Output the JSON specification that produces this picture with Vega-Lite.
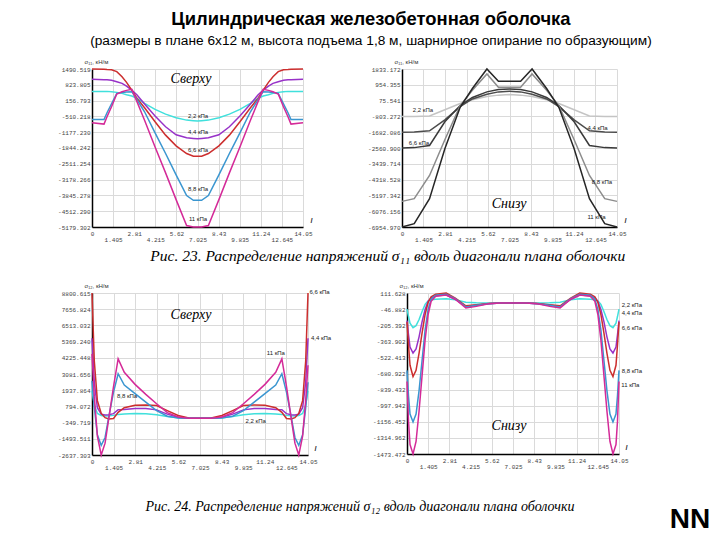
{
  "$schema": "https://vega.github.io/schema/vega-lite/v6.json",
  "background": "white",
  "padding": {"left": 57, "top": 9, "right": 5, "bottom": 5},
  "spacing": 17,
  "resolve": {"scale": {"color": "independent"}},
  "title": {
    "text": "Цилиндрическая железобетонная оболочка",
    "subtitle": "(размеры в плане 6x12 м, высота подъема 1,8 м, шарнирное опирание по образующим)",
    "anchor": "middle",
    "frame": "bounds",
    "font": "Liberation Sans",
    "fontSize": 18.4,
    "fontWeight": "bold",
    "color": "#000000",
    "subtitleFont": "Liberation Sans",
    "subtitleFontSize": 13.7,
    "subtitleColor": "#000000",
    "subtitlePadding": 6,
    "offset": 10,
    "dx": -13
  },
  "datasets": {
    "tl": [
      {"x": 0, "p22": 546, "p44": 1053, "p66": 1490.519, "p88": -639, "p11": -780},
      {"x": 0.8, "p22": 546, "p44": 1039, "p66": 1485, "p88": -639, "p11": -836},
      {"x": 1.0, "p22": 546, "p44": 1039, "p66": 1470, "p88": -357, "p11": -526},
      {"x": 1.3, "p22": 532, "p44": 1011, "p66": 1462, "p88": 24, "p11": -104},
      {"x": 1.65, "p22": 504, "p44": 955, "p66": 1378, "p88": 461, "p11": 433},
      {"x": 2.0, "p22": 461, "p44": 884, "p66": 1166, "p88": 503, "p11": 532},
      {"x": 2.3, "p22": 405, "p44": 771, "p66": 927, "p88": 517, "p11": 588},
      {"x": 2.65, "p22": 348, "p44": 602, "p66": 602, "p88": 532, "p11": 630},
      {"x": 3.0, "p22": 250, "p44": 391, "p66": 250, "p88": 193, "p11": 102},
      {"x": 3.5, "p22": 38, "p44": 10, "p66": -145, "p88": -314, "p11": -674},
      {"x": 4.2, "p22": -216, "p44": -498, "p66": -737, "p88": -1203, "p11": -1802},
      {"x": 4.9, "p22": -413, "p44": -949, "p66": -1302, "p88": -2077, "p11": -2895},
      {"x": 5.6, "p22": -568, "p44": -1287, "p66": -1753, "p88": -2980, "p11": -4023},
      {"x": 6.3, "p22": -667, "p44": -1414, "p66": -2077, "p88": -3854, "p11": -5116},
      {"x": 6.75, "p22": -695, "p44": -1443, "p66": -2190, "p88": -4051, "p11": -5179.302},
      {"x": 7.025, "p22": -709, "p44": -1457, "p66": -2190, "p88": -4051, "p11": -5179.302},
      {"x": 7.3, "p22": -695, "p44": -1443, "p66": -2190, "p88": -4051, "p11": -5179.302},
      {"x": 7.75, "p22": -667, "p44": -1414, "p66": -2077, "p88": -3854, "p11": -5116},
      {"x": 8.45, "p22": -568, "p44": -1287, "p66": -1753, "p88": -2980, "p11": -4023},
      {"x": 9.15, "p22": -413, "p44": -949, "p66": -1302, "p88": -2077, "p11": -2895},
      {"x": 9.85, "p22": -216, "p44": -498, "p66": -737, "p88": -1203, "p11": -1802},
      {"x": 10.55, "p22": 38, "p44": 10, "p66": -145, "p88": -314, "p11": -674},
      {"x": 11.05, "p22": 250, "p44": 391, "p66": 250, "p88": 193, "p11": 102},
      {"x": 11.4, "p22": 348, "p44": 602, "p66": 602, "p88": 532, "p11": 630},
      {"x": 11.75, "p22": 405, "p44": 771, "p66": 927, "p88": 517, "p11": 588},
      {"x": 12.05, "p22": 461, "p44": 884, "p66": 1166, "p88": 503, "p11": 532},
      {"x": 12.4, "p22": 504, "p44": 955, "p66": 1378, "p88": 461, "p11": 433},
      {"x": 12.75, "p22": 532, "p44": 1011, "p66": 1462, "p88": 24, "p11": -104},
      {"x": 13.05, "p22": 546, "p44": 1039, "p66": 1470, "p88": -357, "p11": -526},
      {"x": 13.25, "p22": 546, "p44": 1039, "p66": 1485, "p88": -639, "p11": -836},
      {"x": 14.05, "p22": 546, "p44": 1053, "p66": 1490.519, "p88": -639, "p11": -780}
    ],
    "tr": [
      {"x": 0, "p22": -803, "p44": -1682, "p66": -2561, "p88": -5530, "p11": -6954.97},
      {"x": 0.8, "p22": -803, "p44": -1670, "p66": -2540, "p88": -5380, "p11": -6770},
      {"x": 1.8, "p22": -780, "p44": -1608, "p66": -2422, "p88": -4087, "p11": -5380},
      {"x": 2.8, "p22": -430, "p44": -1000, "p66": -1100, "p88": -2100, "p11": -2600},
      {"x": 3.8, "p22": -90, "p44": -260, "p66": -200, "p88": -202, "p11": -295},
      {"x": 4.6, "p22": 120, "p44": 168, "p66": 250, "p88": 650, "p11": 750},
      {"x": 5.55, "p22": 300, "p44": 430, "p66": 560, "p88": 1556, "p11": 1833.172},
      {"x": 6.3, "p22": 380, "p44": 560, "p66": 690, "p88": 816, "p11": 1149},
      {"x": 7.025, "p22": 409, "p44": 594, "p66": 723, "p88": 816, "p11": 1149},
      {"x": 7.75, "p22": 380, "p44": 560, "p66": 690, "p88": 816, "p11": 1149},
      {"x": 8.5, "p22": 300, "p44": 430, "p66": 560, "p88": 1556, "p11": 1833.172},
      {"x": 9.45, "p22": 120, "p44": 168, "p66": 250, "p88": 650, "p11": 750},
      {"x": 10.25, "p22": -90, "p44": -260, "p66": -200, "p88": -202, "p11": -295},
      {"x": 11.25, "p22": -430, "p44": -1000, "p66": -1100, "p88": -2100, "p11": -2600},
      {"x": 12.25, "p22": -780, "p44": -1608, "p66": -2422, "p88": -4087, "p11": -5380},
      {"x": 13.25, "p22": -803, "p44": -1670, "p66": -2540, "p88": -5380, "p11": -6770},
      {"x": 14.05, "p22": -803, "p44": -1682, "p66": -2561, "p88": -5530, "p11": -6954.97}
    ],
    "bl": [
      {"x": 0, "p22": 1900, "p44": 5600, "p66": 8800.615, "p88": 2600, "p11": 4500},
      {"x": 0.15, "p22": 900, "p44": 2500, "p66": 4000, "p88": 700, "p11": 1500},
      {"x": 0.35, "p22": 300, "p44": 700, "p66": 1200, "p88": -1200, "p11": -1300},
      {"x": 0.6, "p22": 150, "p44": 250, "p66": 300, "p88": -1960, "p11": -2637.303},
      {"x": 0.85, "p22": 120, "p44": 180, "p66": 0, "p88": -1400, "p11": -1800},
      {"x": 1.1, "p22": 130, "p44": 200, "p66": -96, "p88": 100, "p11": 0},
      {"x": 1.4, "p22": 160, "p44": 280, "p66": -60, "p88": 1800, "p11": 2200},
      {"x": 1.7, "p22": 230, "p44": 560, "p66": 375, "p88": 3100, "p11": 4150},
      {"x": 2.1, "p22": 260, "p44": 570, "p66": 700, "p88": 2300, "p11": 3200},
      {"x": 2.8, "p22": 300, "p44": 640, "p66": 880, "p88": 1700, "p11": 2350},
      {"x": 3.5, "p22": 280, "p44": 650, "p66": 893, "p88": 1100, "p11": 1640},
      {"x": 4.2, "p22": 200, "p44": 550, "p66": 850, "p88": 500, "p11": 980},
      {"x": 4.9, "p22": 80, "p44": 250, "p66": 500, "p88": 100, "p11": 350},
      {"x": 5.6, "p22": -10, "p44": 20, "p66": 150, "p88": -20, "p11": 50},
      {"x": 6.3, "p22": -45, "p44": -40, "p66": -20, "p88": -45, "p11": -40},
      {"x": 7.025, "p22": -49, "p44": -49, "p66": -49, "p88": -49, "p11": -49},
      {"x": 7.75, "p22": -45, "p44": -40, "p66": -20, "p88": -45, "p11": -40},
      {"x": 8.45, "p22": -10, "p44": 20, "p66": 150, "p88": -20, "p11": 50},
      {"x": 9.15, "p22": 80, "p44": 250, "p66": 500, "p88": 100, "p11": 350},
      {"x": 9.85, "p22": 200, "p44": 550, "p66": 850, "p88": 500, "p11": 980},
      {"x": 10.55, "p22": 280, "p44": 650, "p66": 893, "p88": 1100, "p11": 1640},
      {"x": 11.25, "p22": 300, "p44": 640, "p66": 880, "p88": 1700, "p11": 2350},
      {"x": 11.95, "p22": 260, "p44": 570, "p66": 700, "p88": 2300, "p11": 3200},
      {"x": 12.35, "p22": 230, "p44": 560, "p66": 375, "p88": 3100, "p11": 4150},
      {"x": 12.65, "p22": 160, "p44": 280, "p66": -60, "p88": 1800, "p11": 2200},
      {"x": 12.95, "p22": 130, "p44": 200, "p66": -96, "p88": 100, "p11": 0},
      {"x": 13.2, "p22": 120, "p44": 180, "p66": 0, "p88": -1400, "p11": -1800},
      {"x": 13.45, "p22": 150, "p44": 250, "p66": 300, "p88": -1960, "p11": -2637.303},
      {"x": 13.7, "p22": 300, "p44": 700, "p66": 1200, "p88": -1200, "p11": -1300},
      {"x": 13.9, "p22": 900, "p44": 2500, "p66": 4000, "p88": 700, "p11": 1200},
      {"x": 14.05, "p22": 1900, "p44": 5600, "p66": 8800.615, "p88": 2500, "p11": 3700}
    ],
    "br": [
      {"x": 0, "p22": -47, "p44": -160, "p66": -175, "p88": -650, "p11": -760},
      {"x": 0.1, "p22": -120, "p44": -300, "p66": -400, "p88": -900, "p11": -1150},
      {"x": 0.2, "p22": -185, "p44": -420, "p66": -600, "p88": -1080, "p11": -1380},
      {"x": 0.4, "p22": -230, "p44": -479, "p66": -711, "p88": -1158, "p11": -1473.472},
      {"x": 0.6, "p22": -210, "p44": -440, "p66": -650, "p88": -1080, "p11": -1350},
      {"x": 0.8, "p22": -150, "p44": -320, "p66": -480, "p88": -850, "p11": -1050},
      {"x": 1.0, "p22": -70, "p44": -170, "p66": -280, "p88": -550, "p11": -700},
      {"x": 1.2, "p22": 0, "p44": -50, "p66": -100, "p88": -250, "p11": -350},
      {"x": 1.4, "p22": 35, "p44": 30, "p66": 20, "p88": -50, "p11": -100},
      {"x": 1.6, "p22": 45, "p44": 65, "p66": 75, "p88": 50, "p11": 30},
      {"x": 1.9, "p22": 50, "p44": 85, "p66": 100, "p88": 90, "p11": 80},
      {"x": 2.6, "p22": 55, "p44": 92, "p66": 111.628, "p88": 100, "p11": 92},
      {"x": 3.2, "p22": 45, "p44": 50, "p66": 60, "p88": 55, "p11": 50},
      {"x": 3.9, "p22": 20, "p44": -20, "p66": -15, "p88": -25, "p11": -35},
      {"x": 4.6, "p22": 15, "p44": -10, "p66": -5, "p88": -10, "p11": -20},
      {"x": 5.4, "p22": 12, "p44": 5, "p66": 8, "p88": 5, "p11": 5},
      {"x": 6.2, "p22": 12, "p44": 12, "p66": 12, "p88": 12, "p11": 12},
      {"x": 7.025, "p22": 12, "p44": 12, "p66": 12, "p88": 12, "p11": 12},
      {"x": 7.85, "p22": 12, "p44": 12, "p66": 12, "p88": 12, "p11": 12},
      {"x": 8.65, "p22": 12, "p44": 5, "p66": 8, "p88": 5, "p11": 5},
      {"x": 9.45, "p22": 15, "p44": -10, "p66": -5, "p88": -10, "p11": -20},
      {"x": 10.15, "p22": 20, "p44": -20, "p66": -15, "p88": -25, "p11": -35},
      {"x": 10.85, "p22": 45, "p44": 50, "p66": 60, "p88": 55, "p11": 50},
      {"x": 11.45, "p22": 55, "p44": 92, "p66": 111.628, "p88": 100, "p11": 92},
      {"x": 12.15, "p22": 50, "p44": 85, "p66": 100, "p88": 90, "p11": 80},
      {"x": 12.45, "p22": 45, "p44": 65, "p66": 75, "p88": 50, "p11": 30},
      {"x": 12.65, "p22": 35, "p44": 30, "p66": 20, "p88": -50, "p11": -100},
      {"x": 12.85, "p22": 0, "p44": -50, "p66": -100, "p88": -250, "p11": -350},
      {"x": 13.05, "p22": -70, "p44": -170, "p66": -280, "p88": -550, "p11": -700},
      {"x": 13.25, "p22": -150, "p44": -320, "p66": -480, "p88": -850, "p11": -1050},
      {"x": 13.45, "p22": -210, "p44": -440, "p66": -650, "p88": -1080, "p11": -1350},
      {"x": 13.65, "p22": -230, "p44": -479, "p66": -711, "p88": -1158, "p11": -1473.472},
      {"x": 13.85, "p22": -185, "p44": -420, "p66": -600, "p88": -1080, "p11": -1380},
      {"x": 13.95, "p22": -120, "p44": -300, "p66": -400, "p88": -900, "p11": -1150},
      {"x": 14.05, "p22": -47, "p44": -160, "p66": -175, "p88": -650, "p11": -760}
    ],
    "tl_lab": [
      {"x": 7.06, "v": -494, "t": "2,2 кПа"},
      {"x": 7.06, "v": -1168, "t": "4,4 кПа"},
      {"x": 7.06, "v": -1928, "t": "6,6 кПа"},
      {"x": 7.06, "v": -3574, "t": "8,8 кПа"},
      {"x": 7.06, "v": -4840, "t": "11 кПа"}
    ],
    "tr_lab": [
      {"x": 1.37, "v": -447, "t": "2,2 кПа"},
      {"x": 1.11, "v": -2282, "t": "6,6 кПа"},
      {"x": 12.78, "v": -1449, "t": "4,4 кПа"},
      {"x": 13.07, "v": -4452, "t": "8,8 кПа"},
      {"x": 12.71, "v": -6399, "t": "11 кПа"}
    ],
    "bl_lab": [
      {"x": 2.28, "v": 1528, "t": "8,8 кПа"},
      {"x": 11.96, "v": 4564, "t": "11 кПа"},
      {"x": 10.65, "v": -236, "t": "2,2 кПа"},
      {"x": 14.9, "v": 5623, "t": "4,4 кПа"},
      {"x": 14.8, "v": 8870, "t": "6,6 кПа"}
    ],
    "br_lab": [
      {"x": 14.9, "v": -7, "t": "2,2 кПа"},
      {"x": 14.9, "v": -86, "t": "4,4 кПа"},
      {"x": 14.9, "v": -235, "t": "6,6 кПа"},
      {"x": 14.9, "v": -661, "t": "8,8 кПа"},
      {"x": 14.8, "v": -790, "t": "11 кПа"}
    ]
  },
  "vconcat": [
    {
      "bounds": "flush",
      "spacing": 99,
      "resolve": {"scale": {"color": "independent"}},
      "title": {
        "text": "Рис. 23. Распределение напряжений σ₁₁ вдоль диагонали плана оболочки",
        "orient": "bottom",
        "anchor": "middle",
        "frame": "bounds",
        "font": "Liberation Serif",
        "fontStyle": "italic",
        "fontWeight": "normal",
        "fontSize": 15.5,
        "color": "#000000",
        "offset": 7,
        "dx": 46
      },
      "hconcat": [
        {
          "width": 211,
          "height": 158,
          "layer": [
            {
              "data": {"name": "tl"},
              "transform": [{"fold": ["p22", "p44", "p66", "p88", "p11"], "as": ["s", "v"]}],
              "mark": {"type": "line", "strokeWidth": 1.5},
              "encoding": {
                "x": {"field": "x", "type": "quantitative",
                  "scale": {"domain": [0, 14.05], "nice": false, "zero": false},
                  "axis": {"values": [0, 1.405, 2.81, 4.215, 5.62, 7.025, 8.43, 9.835, 11.24, 12.645, 14.05], "tickCount": 11,
                    "labelExpr": "'' + datum.value", "labelOverlap": false, "labelBound": false,
                    "labelPadding": {"condition": {"test": "round(datum.value / 1.405) % 2 == 1", "value": 9}, "value": 3},
                    "title": "l", "titleX": 218, "titleY": -4, "titleAnchor": "start"}},
                "y": {"field": "v", "type": "quantitative",
                  "scale": {"domain": [-5179.302, 1490.519], "nice": false, "zero": false},
                  "axis": {"values": [1490.519, 823.805, 156.793, -510.218, -1177.23, -1844.242, -2511.254, -3178.266, -3845.278, -4512.29, -5179.302], "tickCount": 11,
                    "labelExpr": "replace(format(datum.value, '.3f'), '−', '-')", "labelOverlap": false, "labelBound": false,
                    "title": "σ₁₁, кН/м"}},
                "color": {"field": "s", "type": "nominal", "legend": null,
                  "scale": {"domain": ["p22", "p44", "p66", "p88", "p11"], "range": ["#40e0dc", "#9832c8", "#cc2e2e", "#3a96d0", "#d42a98"]}}
              }
            },
            {
              "data": {"name": "tl_lab"},
              "mark": {"type": "text", "font": "Liberation Sans", "fontSize": 6, "color": "#222222"},
              "encoding": {
                "x": {"field": "x", "type": "quantitative"},
                "y": {"field": "v", "type": "quantitative"},
                "text": {"field": "t"}
              }
            },
            {
              "data": {"values": [{"x": 6.59, "v": 1068, "t": "Сверху"}]},
              "mark": {"type": "text", "font": "Liberation Serif", "fontStyle": "italic", "fontSize": 14, "color": "#000000"},
              "encoding": {
                "x": {"field": "x", "type": "quantitative"},
                "y": {"field": "v", "type": "quantitative"},
                "text": {"field": "t"}
              }
            }
          ]
        },
        {
          "width": 215,
          "height": 158,
          "layer": [
            {
              "data": {"name": "tr"},
              "transform": [{"fold": ["p22", "p44", "p66", "p88", "p11"], "as": ["s", "v"]}],
              "mark": {"type": "line", "strokeWidth": 1.5},
              "encoding": {
                "x": {"field": "x", "type": "quantitative",
                  "scale": {"domain": [0, 14.05], "nice": false, "zero": false},
                  "axis": {"values": [0, 1.405, 2.81, 4.215, 5.62, 7.025, 8.43, 9.835, 11.24, 12.645, 14.05], "tickCount": 11,
                    "labelExpr": "'' + datum.value", "labelOverlap": false, "labelBound": false,
                    "labelPadding": {"condition": {"test": "round(datum.value / 1.405) % 2 == 1", "value": 9}, "value": 3},
                    "title": "l", "titleX": 222, "titleY": -4, "titleAnchor": "start"}},
                "y": {"field": "v", "type": "quantitative",
                  "scale": {"domain": [-6954.97, 1833.172], "nice": false, "zero": false},
                  "axis": {"values": [1833.172, 954.355, 75.541, -803.272, -1682.086, -2560.9, -3439.714, -4318.528, -5197.342, -6076.156, -6954.97], "tickCount": 11,
                    "labelExpr": "replace(format(datum.value, '.3f'), '−', '-')", "labelOverlap": false, "labelBound": false,
                    "title": "σ₁₁, кН/м"}},
                "color": {"field": "s", "type": "nominal", "legend": null,
                  "scale": {"domain": ["p22", "p44", "p66", "p88", "p11"], "range": ["#c4c4c4", "#4c4c4c", "#3a3a3a", "#8c8c8c", "#262626"]}}
              }
            },
            {
              "data": {"name": "tr_lab"},
              "mark": {"type": "text", "font": "Liberation Sans", "fontSize": 6, "color": "#222222"},
              "encoding": {
                "x": {"field": "x", "type": "quantitative"},
                "y": {"field": "v", "type": "quantitative"},
                "text": {"field": "t"}
              }
            },
            {
              "data": {"values": [{"x": 7.0, "v": -5673, "t": "Снизу"}]},
              "mark": {"type": "text", "font": "Liberation Serif", "fontStyle": "italic", "fontSize": 14, "color": "#000000"},
              "encoding": {
                "x": {"field": "x", "type": "quantitative"},
                "y": {"field": "v", "type": "quantitative"},
                "text": {"field": "t"}
              }
            }
          ]
        }
      ]
    },
    {
      "bounds": "flush",
      "spacing": 99,
      "resolve": {"scale": {"color": "independent"}},
      "title": {
        "text": "Рис. 24. Распределение напряжений σ₁₂ вдоль диагонали плана оболочки",
        "orient": "bottom",
        "anchor": "middle",
        "frame": "bounds",
        "font": "Liberation Serif",
        "fontStyle": "italic",
        "fontWeight": "normal",
        "fontSize": 14,
        "color": "#000000",
        "offset": -34,
        "dx": -24
      },
      "hconcat": [
        {
          "width": 216,
          "height": 162,
          "layer": [
            {
              "data": {"name": "bl"},
              "transform": [{"fold": ["p22", "p44", "p66", "p88", "p11"], "as": ["s", "v"]}],
              "mark": {"type": "line", "strokeWidth": 1.5},
              "encoding": {
                "x": {"field": "x", "type": "quantitative",
                  "scale": {"domain": [0, 14.05], "nice": false, "zero": false},
                  "axis": {"values": [0, 1.405, 2.81, 4.215, 5.62, 7.025, 8.43, 9.835, 11.24, 12.645, 14.05], "tickCount": 11,
                    "labelExpr": "'' + datum.value", "labelOverlap": false, "labelBound": false,
                    "labelPadding": {"condition": {"test": "round(datum.value / 1.405) % 2 == 1", "value": 9}, "value": 3},
                    "title": "l", "titleX": 222, "titleY": -4, "titleAnchor": "start"}},
                "y": {"field": "v", "type": "quantitative",
                  "scale": {"domain": [-2637.303, 8800.615], "nice": false, "zero": false},
                  "axis": {"values": [8800.615, 7656.824, 6513.032, 5369.24, 4225.448, 3081.656, 1937.864, 794.072, -349.719, -1493.511, -2637.303], "tickCount": 11,
                    "labelExpr": "replace(format(datum.value, '.3f'), '−', '-')", "labelOverlap": false, "labelBound": false,
                    "title": "σ₁₂, кН/м"}},
                "color": {"field": "s", "type": "nominal", "legend": null,
                  "scale": {"domain": ["p22", "p44", "p66", "p88", "p11"], "range": ["#40e0dc", "#9832c8", "#cc2e2e", "#3a96d0", "#d42a98"]}}
              }
            },
            {
              "data": {"name": "bl_lab"},
              "mark": {"type": "text", "font": "Liberation Sans", "fontSize": 6, "color": "#222222"},
              "encoding": {
                "x": {"field": "x", "type": "quantitative"},
                "y": {"field": "v", "type": "quantitative"},
                "text": {"field": "t"}
              }
            },
            {
              "data": {"values": [{"x": 6.44, "v": 7247, "t": "Сверху"}]},
              "mark": {"type": "text", "font": "Liberation Serif", "fontStyle": "italic", "fontSize": 14, "color": "#000000"},
              "encoding": {
                "x": {"field": "x", "type": "quantitative"},
                "y": {"field": "v", "type": "quantitative"},
                "text": {"field": "t"}
              }
            }
          ]
        },
        {
          "width": 212,
          "height": 161,
          "layer": [
            {
              "data": {"name": "br"},
              "transform": [{"fold": ["p22", "p44", "p66", "p88", "p11"], "as": ["s", "v"]}],
              "mark": {"type": "line", "strokeWidth": 1.5},
              "encoding": {
                "x": {"field": "x", "type": "quantitative",
                  "scale": {"domain": [0, 14.05], "nice": false, "zero": false},
                  "axis": {"values": [0, 1.405, 2.81, 4.215, 5.62, 7.025, 8.43, 9.835, 11.24, 12.645, 14.05], "tickCount": 11,
                    "labelExpr": "'' + datum.value", "labelOverlap": false, "labelBound": false,
                    "labelPadding": {"condition": {"test": "round(datum.value / 1.405) % 2 == 1", "value": 9}, "value": 3},
                    "title": "l", "titleX": 218, "titleY": -4, "titleAnchor": "start"}},
                "y": {"field": "v", "type": "quantitative",
                  "scale": {"domain": [-1473.472, 111.628], "nice": false, "zero": false},
                  "axis": {"values": [111.628, -46.882, -205.392, -363.902, -522.413, -680.922, -839.432, -997.942, -1156.452, -1314.962, -1473.472], "tickCount": 11,
                    "labelExpr": "replace(format(datum.value, '.3f'), '−', '-')", "labelOverlap": false, "labelBound": false,
                    "title": "σ₁₂, кН/м"}},
                "color": {"field": "s", "type": "nominal", "legend": null,
                  "scale": {"domain": ["p22", "p44", "p66", "p88", "p11"], "range": ["#40e0dc", "#9832c8", "#cc2e2e", "#3a96d0", "#d42a98"]}}
              }
            },
            {
              "data": {"name": "br_lab"},
              "mark": {"type": "text", "font": "Liberation Sans", "fontSize": 6, "color": "#222222"},
              "encoding": {
                "x": {"field": "x", "type": "quantitative"},
                "y": {"field": "v", "type": "quantitative"},
                "text": {"field": "t"}
              }
            },
            {
              "data": {"values": [{"x": 6.76, "v": -1196, "t": "Снизу"}]},
              "mark": {"type": "text", "font": "Liberation Serif", "fontStyle": "italic", "fontSize": 14, "color": "#000000"},
              "encoding": {
                "x": {"field": "x", "type": "quantitative"},
                "y": {"field": "v", "type": "quantitative"},
                "text": {"field": "t"}
              }
            },
            {
              "data": {"values": [{"x": 18.76, "v": -2123, "t": "NN"}]},
              "mark": {"type": "text", "font": "Liberation Sans", "fontWeight": "bold", "fontSize": 28, "color": "#000000"},
              "encoding": {
                "x": {"field": "x", "type": "quantitative"},
                "y": {"field": "v", "type": "quantitative"},
                "text": {"field": "t"}
              }
            }
          ]
        }
      ]
    }
  ],
  "config": {
    "view": {"stroke": null},
    "font": "Liberation Sans",
    "axis": {
      "labelFont": "Liberation Mono",
      "labelFontSize": 6,
      "labelColor": "#444444",
      "labelOverlap": false,
      "labelFlush": false,
      "gridColor": "#dadada",
      "gridWidth": 1,
      "domainColor": "#000000",
      "domainWidth": 1.5,
      "ticks": false,
      "titleFont": "Liberation Sans",
      "titleFontSize": 6,
      "titleFontWeight": "normal",
      "titleColor": "#333333"
    },
    "axisY": {
      "labelPadding": 2,
      "titleAngle": 0,
      "titleAlign": "left",
      "titleBaseline": "bottom",
      "titleX": -8,
      "titleY": -5
    },
    "axisX": {
      "titleFontStyle": "italic",
      "titleFontWeight": "bold",
      "titleFontSize": 7,
      "titleBaseline": "bottom"
    }
  }
}
